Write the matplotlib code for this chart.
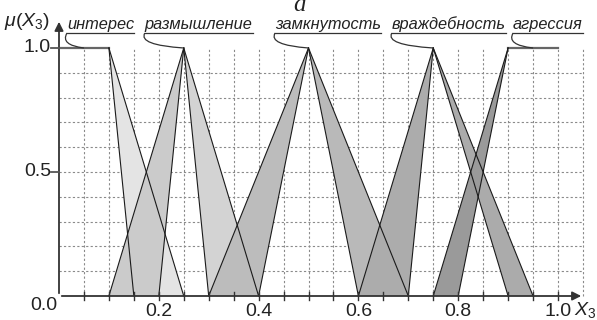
import matplotlib
matplotlib.use('Agg')
import matplotlib.pyplot as plt
from matplotlib.path import Path
from matplotlib.patches import PathPatch, Polygon

plt.rcParams['font.family'] = ['Liberation Sans', 'DejaVu Sans']
plt.rcParams['mathtext.fontset'] = 'custom'
plt.rcParams['mathtext.rm'] = 'Liberation Sans'
plt.rcParams['mathtext.it'] = 'Liberation Sans:italic'

# --- data: fuzzy terms (peak / base points of the membership shapes) ---
terms = ['интерес', 'размышление', 'замкнутость', 'враждебность', 'агрессия']
core_left = [0.0, 0.25, 0.5, 0.75, 0.9]
core_right = [0.1, 0.25, 0.5, 0.75, 1.0]
left_outer = [None, 0.1, 0.3, 0.6, 0.75]
left_inner = [None, 0.2, 0.4, 0.7, 0.8]
right_inner = [0.15, 0.3, 0.6, 0.9, None]
right_outer = [0.25, 0.4, 0.7, 0.95, None]
leader_end = [0.05, 0.25, 0.5, 0.75, 0.95]
label_start = [0.016, 0.172, 0.433, 0.667, 0.910]
left_colors = [None, '#cbcbcb', '#bcbcbc', '#acacac', '#9a9a9a']
right_colors = ['#e4e4e4', '#d3d3d3', '#b9b9b9', '#ababab', None]

xtick_vals = [0.2, 0.4, 0.6, 0.8, 1.0]
xtick_labels = ['0.2', '0.4', '0.6', '0.8', '1.0']

# pixel -> data helpers (x=0 at px 59, x=1 at px 558; y=0 at px 296, y=1 at px 48)
def px(x):
    return (x - 59) / 499.0
def py(y):
    return (296 - y) / 248.0

fig = plt.figure(figsize=(5.97, 3.2), dpi=100)
ax = fig.add_axes([0, 0, 1, 1])
ax.set_xlim(px(0), px(597))
ax.set_ylim(py(320), py(0))
ax.axis('off')

# grid
gx = [0.05 * i for i in range(1, 22)]
for x in gx:
    ax.plot([x, x], [0, 1.0], color='#8a8a8a', lw=0.8, ls=(0, (2, 2)), zorder=1)
for i in range(1, 10):
    ax.plot([0, 1.05], [i / 10, i / 10], color='#8a8a8a', lw=0.8, ls=(0, (2, 2)), zorder=1)

# membership shapes, drawn left to right
edges = []
for i in range(len(terms)):
    if left_outer[i] is not None:
        ax.add_patch(Polygon([(left_outer[i], 0), (core_left[i], 1), (left_inner[i], 0)],
                             closed=True, fc=left_colors[i], ec='none', zorder=2 + i))
        edges.append(((left_outer[i], 0), (core_left[i], 1)))
        edges.append(((left_inner[i], 0), (core_left[i], 1)))
    if right_outer[i] is not None:
        ax.add_patch(Polygon([(core_right[i], 1), (right_inner[i], 0), (right_outer[i], 0)],
                             closed=True, fc=right_colors[i], ec='none', zorder=2 + i))
        edges.append(((core_right[i], 1), (right_inner[i], 0)))
        edges.append(((core_right[i], 1), (right_outer[i], 0)))
    if core_right[i] > core_left[i]:
        ax.plot([core_left[i], core_right[i]], [1, 1], color='#666666', lw=1.6, zorder=9)
for a, b in edges:
    ax.plot([a[0], b[0]], [a[1], b[1]], color='#1a1a1a', lw=0.8, zorder=10)

# axes with arrows
ax.annotate('', xy=(px(584), 0), xytext=(0, 0),
            arrowprops=dict(arrowstyle='-|>', color='#333333', lw=1.3, mutation_scale=13), zorder=11)
ax.annotate('', xy=(0, py(19)), xytext=(0, 0),
            arrowprops=dict(arrowstyle='-|>', color='#333333', lw=1.3, mutation_scale=13), zorder=11)
for x in gx[:20]:
    ax.plot([x, x], [py(300), py(292)], color='#333333', lw=1.0, zorder=11)
for y in [0.5, 1.0]:
    ax.plot([px(51), 0], [y, y], color='#555555', lw=1.3, zorder=11)

# tick labels
for v, t in zip(xtick_vals, xtick_labels):
    ax.text(v, py(319.5), t, ha='center', va='bottom', fontsize=14, color='#222222')
ax.text(px(51), 1.0, '1.0', ha='right', va='center', fontsize=14, color='#222222')
ax.text(px(51), 0.5, '0.5', ha='right', va='center', fontsize=14, color='#222222')
ax.text(px(57), py(305), '0.0', ha='right', va='center', fontsize=14, color='#222222')
ax.text(px(4), py(21), r'$\mu(X_3)$', ha='left', va='center', fontsize=14, color='#222222')
ax.text(px(596.5), py(319.5), r'$X_3$', ha='right', va='bottom', fontsize=14, color='#222222')
ax.text(px(300), py(11), 'a', ha='center', va='baseline', fontsize=18,
        family='Liberation Serif', style='italic', color='#222222')

# term labels with underline and hook leader
fig.canvas.draw()
rend = fig.canvas.get_renderer()
inv = ax.transData.inverted()
for i, t in enumerate(terms):
    txt = ax.text(label_start[i], py(29.5), t, ha='left', va='baseline', fontsize=11.8,
                  style='italic', color='#222222', zorder=12)
    bb = txt.get_window_extent(renderer=rend)
    x0 = inv.transform((bb.x0, 0))[0]
    x1 = inv.transform((bb.x1, 0))[0]
    ax.plot([x0, x1], [py(33), py(33)], color='#333333', lw=0.9, zorder=12)
    verts = [(x0, py(33)), (x0 - 0.014, py(45)), (leader_end[i], 1.0)]
    path = Path(verts, [Path.MOVETO, Path.CURVE3, Path.CURVE3])
    ax.add_patch(PathPatch(path, fc='none', ec='#333333', lw=0.9, zorder=12))

fig.savefig('out.png', dpi=100)
